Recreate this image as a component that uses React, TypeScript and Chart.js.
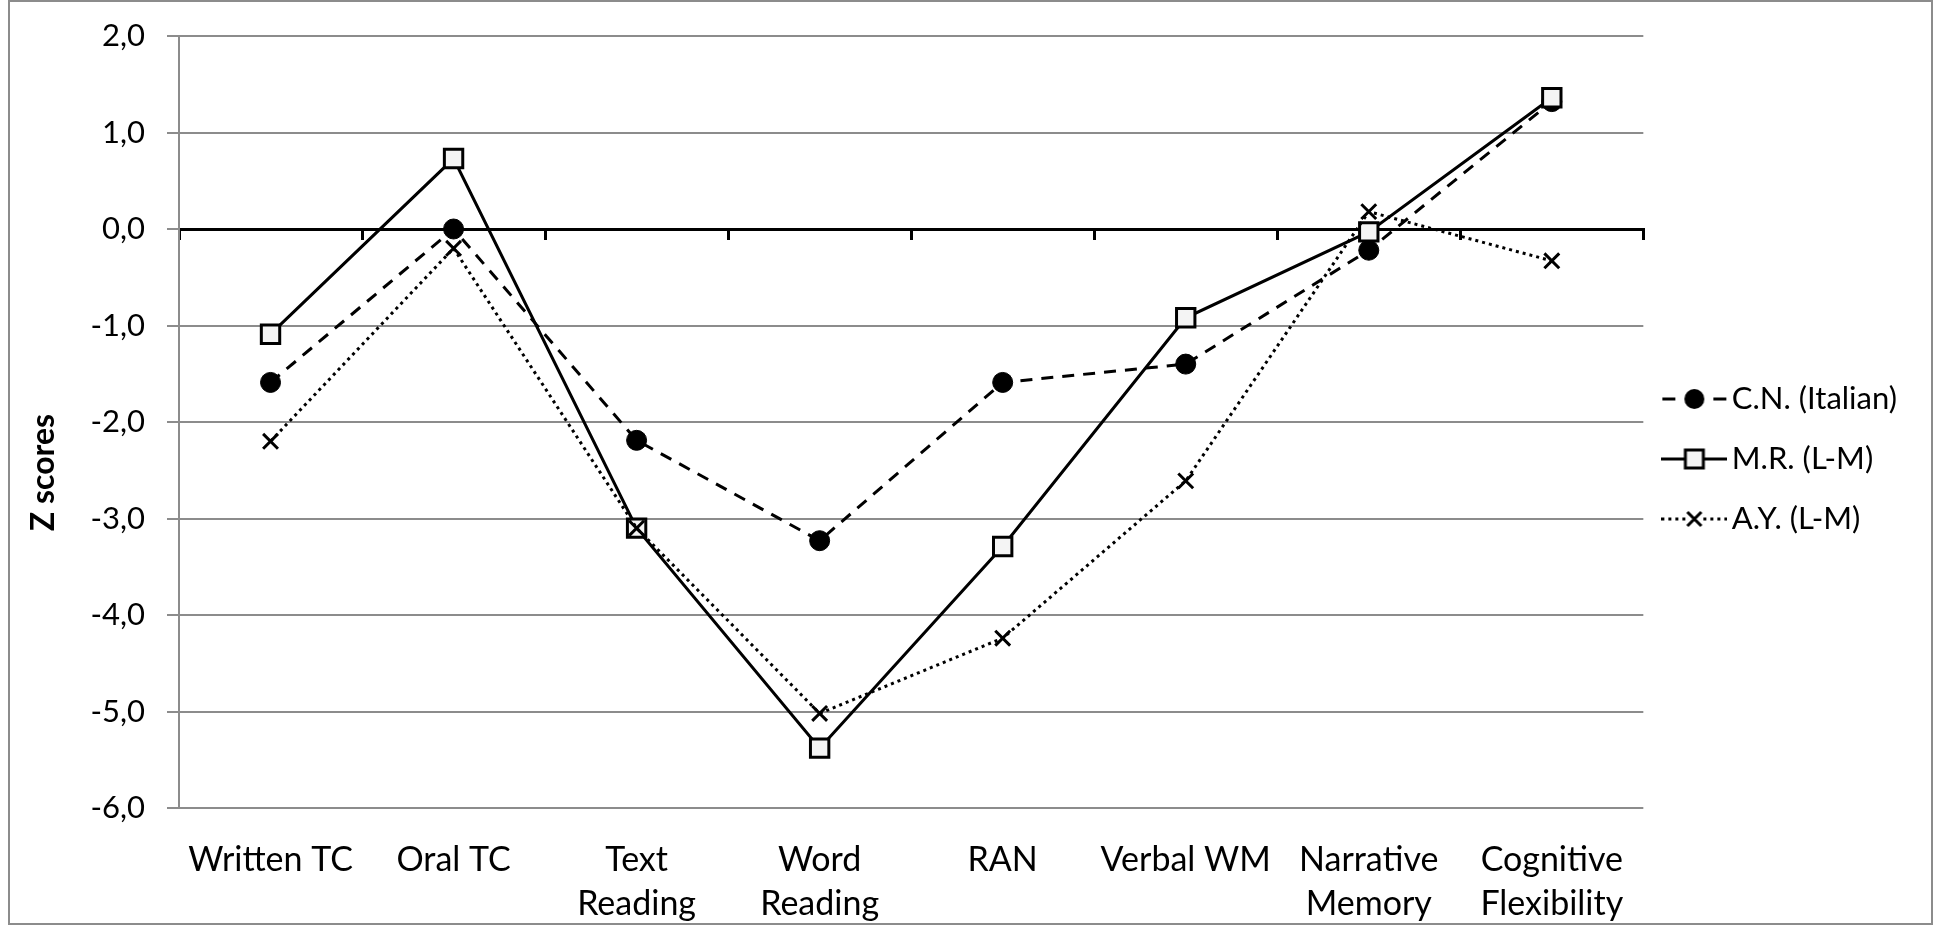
import React, { useEffect, useRef } from 'react';
import { Chart, registerables } from 'chart.js';

Chart.register(...registerables);

const categories: (string | string[])[] = [
  'Written TC',
  'Oral TC',
  ['Text', 'Reading'],
  ['Word', 'Reading'],
  'RAN',
  'Verbal WM',
  ['Narrative', 'Memory'],
  ['Cognitive', 'Flexibility'],
];

const seriesNames = ['C.N. (Italian)', 'M.R. (L-M)', 'A.Y. (L-M)'];
const cnScores = [-1.59, 0.0, -2.19, -3.23, -1.59, -1.4, -0.22, 1.32];
const mrScores = [-1.09, 0.73, -3.1, -5.38, -3.29, -0.92, -0.03, 1.36];
const ayScores = [-2.2, -0.2, -3.1, -5.02, -4.24, -2.61, 0.18, -0.33];

const yMin = -6;
const yMax = 2;
const yStep = 1;
const yTitle = 'Z scores';

const FONT = 'Lato, "Open Sans", sans-serif';

function makeLegendImage(kind: number): HTMLCanvasElement {
  const c = document.createElement('canvas');
  c.width = 66;
  c.height = 24;
  const g = c.getContext('2d') as CanvasRenderingContext2D;
  const cy = 12;
  const cx = 33;
  g.strokeStyle = '#000';
  g.fillStyle = '#000';
  g.lineWidth = 3;
  g.lineCap = 'butt';
  if (kind === 0) {
    g.beginPath();
    g.moveTo(1, cy);
    g.lineTo(14, cy);
    g.moveTo(52, cy);
    g.lineTo(65, cy);
    g.stroke();
    g.beginPath();
    g.arc(cx, cy, 10, 0, Math.PI * 2);
    g.fill();
  } else if (kind === 1) {
    g.beginPath();
    g.moveTo(0, cy);
    g.lineTo(66, cy);
    g.stroke();
    g.fillStyle = '#f4f4f4';
    g.fillRect(cx - 9, cy - 9, 18, 18);
    g.strokeRect(cx - 9, cy - 9, 18, 18);
  } else {
    g.setLineDash([3, 4]);
    g.beginPath();
    g.moveTo(0, cy);
    g.lineTo(66, cy);
    g.stroke();
    g.setLineDash([]);
    g.clearRect(cx - 9, 0, 18, 24);
    g.beginPath();
    g.moveTo(cx - 7, cy - 7);
    g.lineTo(cx + 7, cy + 7);
    g.moveTo(cx + 7, cy - 7);
    g.lineTo(cx - 7, cy + 7);
    g.stroke();
  }
  return c;
}

export default function App() {
  const ref = useRef<HTMLCanvasElement>(null);

  useEffect(() => {
    if (!ref.current) return;
    const imgs = [makeLegendImage(0), makeLegendImage(1), makeLegendImage(2)];

    const framePlugin = {
      id: 'frame',
      beforeDraw(chart: any) {
        const ctx = chart.ctx;
        ctx.save();
        ctx.strokeStyle = '#8c8c8c';
        ctx.lineWidth = 2;
        ctx.strokeRect(9, 1, 1923, 923);
        ctx.restore();
      },
    };

    const chart = new Chart(ref.current, {
      type: 'line',
      data: {
        labels: categories as any,
        datasets: [
          {
            label: seriesNames[0],
            data: cnScores,
            xAxisID: 'x',
            yAxisID: 'y',
            order: 3,
            borderColor: '#000',
            borderWidth: 3,
            borderDash: [12, 9],
            pointStyle: 'circle',
            pointRadius: 10,
            pointBackgroundColor: '#000',
            pointBorderColor: '#000',
            pointBorderWidth: 1,
            tension: 0,
            fill: false,
          },
          {
            label: seriesNames[1],
            data: mrScores,
            xAxisID: 'x',
            yAxisID: 'y',
            order: 2,
            borderColor: '#000',
            borderWidth: 3,
            pointStyle: 'rect',
            pointRadius: 13,
            pointBackgroundColor: '#f4f4f4',
            pointBorderColor: '#000',
            pointBorderWidth: 3,
            tension: 0,
            fill: false,
          },
          {
            label: seriesNames[2],
            data: ayScores,
            xAxisID: 'x',
            yAxisID: 'y',
            order: 1,
            borderColor: '#000',
            borderWidth: 3,
            borderDash: [3, 4],
            pointStyle: 'crossRot',
            pointRadius: 10.5,
            pointBackgroundColor: '#000',
            pointBorderColor: '#000',
            pointBorderWidth: 3,
            tension: 0,
            fill: false,
          },
        ],
      },
      options: {
        animation: false,
        responsive: true,
        maintainAspectRatio: false,
        events: [],
        layout: { padding: { top: 36, left: 0, right: 36, bottom: 0 } },
        plugins: {
          tooltip: { enabled: false },
          legend: {
            position: 'right',
            fullSize: false,
            align: 'center',
            title: {
              display: true,
              text: '',
              font: { size: 20, lineHeight: 1 },
              padding: { top: 0, bottom: 54 },
            },
            labels: {
              usePointStyle: true,
              pointStyleWidth: 44,
              padding: 29,
              color: '#000',
              font: { family: FONT, size: 31 },
              generateLabels: (ch: any) =>
                ch.data.datasets.map((ds: any, i: number) => ({
                  text: ds.label,
                  pointStyle: imgs[i],
                  datasetIndex: i,
                  hidden: false,
                  lineWidth: 0,
                  fillStyle: '#000',
                  strokeStyle: '#000',
                  fontColor: '#000',
                })),
            },
          },
        },
        scales: {
          x: {
            type: 'category',
            position: 'bottom',
            offset: true,
            grid: { display: false, drawTicks: false },
            border: { display: false },
            ticks: {
              color: '#000',
              padding: 30,
              autoSkip: false,
              maxRotation: 0,
              font: { family: FONT, size: 34, lineHeight: 1.3 },
            },
            afterFit: (s: any) => {
              s.height = 118;
            },
          },
          xz: {
            type: 'category',
            axis: 'x',
            position: { y: 0 },
            offset: true,
            grid: {
              offset: true,
              drawOnChartArea: false,
              drawTicks: true,
              tickLength: 9,
              color: '#000',
              lineWidth: 3,
            },
            border: { display: true, color: '#000', width: 3 },
            ticks: { display: false },
            afterFit: (s: any) => {
              s.height = 0;
            },
          } as any,
          y: {
            type: 'linear',
            position: 'left',
            min: yMin,
            max: yMax,
            ticks: {
              stepSize: yStep,
              color: '#000',
              padding: 22,
              font: { family: FONT, size: 31 },
              callback: (v: any) => Number(v).toFixed(1).replace('.', ','),
            },
            grid: {
              color: (c: any) => (c.tick && c.tick.value === 0 ? 'rgba(0,0,0,0)' : '#8c8c8c'),
              tickColor: '#8c8c8c',
              lineWidth: 2,
              tickLength: 12,
            },
            border: { display: true, color: '#8c8c8c', width: 2 },
            title: {
              display: true,
              text: yTitle + ' '.repeat(13),
              color: '#000',
              font: { family: FONT, size: 32, weight: 'bold' },
              padding: { top: 24, bottom: 0 },
            },
            afterFit: (s: any) => {
              s.width = 179;
              s.paddingTop = 10;
              s.paddingBottom = 10;
            },
          },
        },
      },
      plugins: [framePlugin],
    } as any);

    return () => chart.destroy();
  }, []);

  return (
    <div style={{ position: 'fixed', left: 0, top: 0, width: 1943, height: 926, background: '#fff' }}>
      <canvas ref={ref} />
    </div>
  );
}
